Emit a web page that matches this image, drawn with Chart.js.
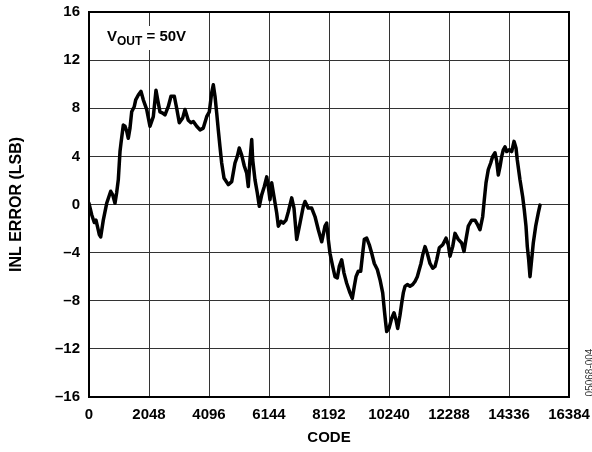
<!DOCTYPE html>
<html>
<head>
<meta charset="utf-8">
<script src="https://cdn.jsdelivr.net/npm/chart.js@4/dist/chart.umd.min.js"></script>
<style>
  html, body { margin: 0; padding: 0; background: #fff; }
  #wrap { width: 592px; height: 452px; position: relative; }
</style>
</head>
<body>
<div id="wrap"><canvas id="c" width="592" height="452"></canvas></div>
<script>
// ---- Data ----
const codes = [
  0, 92, 181, 239, 352, 399, 488, 604, 741, 809, 887, 945, 1000, 1058, 1092, 1171, 1229, 1287, 1341, 1399,
  1457, 1546, 1594, 1683, 1775, 1853, 1969, 2082, 2195, 2287, 2345, 2423, 2516, 2594, 2707, 2799, 2912, 2993,
  3082, 3198, 3277, 3389, 3482, 3560, 3676, 3789, 3901, 4017, 4106, 4188, 4243, 4301, 4359, 4413, 4471, 4529,
  4608, 4755, 4871, 4983, 5062, 5130, 5212, 5301, 5383, 5437, 5495, 5554, 5588, 5666, 5745, 5813, 5895, 5984,
  6066, 6120, 6178, 6236, 6315, 6407, 6462, 6554, 6632, 6724, 6803, 6919, 6997, 7089, 7202, 7315, 7373, 7485,
  7601, 7714, 7827, 7943, 8055, 8113, 8168, 8226, 8318, 8397, 8475, 8543, 8625, 8704, 8796, 8909, 8987, 9056,
  9114, 9192, 9274, 9342, 9397, 9479, 9568, 9650, 9738, 9841, 9933, 10025, 10080, 10127, 10161, 10240, 10332,
  10411, 10479, 10537, 10615, 10673, 10728, 10786, 10865, 10957, 11049, 11127, 11206, 11274, 11332, 11390,
  11469, 11547, 11639, 11731, 11810, 11868, 11957, 12073, 12186, 12264, 12322, 12414, 12493, 12605, 12721,
  12800, 12868, 12947, 13063, 13176, 13268, 13346, 13438, 13493, 13551, 13629, 13711, 13779, 13858, 13916,
  13971, 14029, 14087, 14142, 14199, 14257, 14346, 14428, 14507, 14575, 14619, 14711, 14803, 14858, 14916,
  14961, 15008, 15053, 15097, 15165, 15247, 15336, 15394
];
const inlError = [
  0.1, -0.85, -1.5, -1.3, -2.5, -2.7, -1.3, 0.1, 1.1, 0.8, 0.1, 1.0, 2.05, 4.4, 5.1, 6.6, 6.5, 6.1, 5.5, 6.35,
  7.7, 8.15, 8.7, 9.1, 9.4, 8.7, 7.9, 6.5, 7.3, 9.5, 8.7, 7.7, 7.6, 7.45, 8.15, 9.0, 9.0, 8.0,
  6.8, 7.2, 7.9, 7.0, 6.8, 6.9, 6.5, 6.2, 6.35, 7.3, 7.7, 9.3, 9.95, 9.0, 7.6, 6.2, 4.8, 3.45,
  2.2, 1.65, 1.9, 3.45, 4.0, 4.7, 4.1, 3.2, 2.6, 1.5, 3.7, 5.4, 3.7, 2.05, 0.95, -0.15, 0.8, 1.5,
  2.3, 1.5, 0.4, 1.8, 0.65, -0.7, -1.8, -1.4, -1.55, -1.3, -0.6, 0.55, -0.3, -2.9, -1.55, -0.15, 0.25, -0.3,
  -0.3, -1.0, -2.1, -3.1, -1.8, -1.55, -2.9, -4.05, -5.15, -6.0, -6.1, -5.15, -4.6, -5.7, -6.55, -7.35, -7.8, -6.8,
  -6.0, -5.55, -5.55, -4.05, -2.9, -2.8, -3.35, -4.05, -4.9, -5.4, -6.25, -7.35, -8.75, -9.85, -10.55, -10.3, -9.45,
  -9.0, -9.6, -10.3, -9.2, -8.2, -7.35, -6.8, -6.65, -6.8, -6.65, -6.4, -6.0, -5.4, -4.9, -4.2,
  -3.5, -4.05, -4.9, -5.3, -5.15, -4.6, -3.6, -3.35, -2.8, -3.35, -4.3, -3.5, -2.4, -2.9, -3.2,
  -3.9, -2.9, -1.8, -1.3, -1.3, -1.7, -2.1, -1.0, 0.4, 1.8, 2.9, 3.45, 4.0, 4.3, 3.6,
  2.45, 3.15, 4.0, 4.55, 4.8, 4.4, 4.55, 4.4, 5.25, 4.7, 3.7, 2.05, 0.65, -0.45, -1.8,
  -3.5, -4.6, -6.0, -4.9, -3.2, -1.8, -0.7, -0.05
];
const xTickValues = [0, 2048, 4096, 6144, 8192, 10240, 12288, 14336, 16384];
const xTickLabels = ['0', '2048', '4096', '6144', '8192', '10240', '12288', '14336', '16384'];
const yTickValues = [-16, -12, -8, -4, 0, 4, 8, 12, 16];
const yTickLabels = ['\u201316', '\u201312', '\u20138', '\u20134', '0', '4', '8', '12', '16'];
const xTitle = 'CODE';
const yTitle = 'INL ERROR (LSB)';
const noteMain = 'V';
const noteSub = 'OUT';
const noteRest = ' = 50V';
const figId = '05068-004';

const points = codes.map((c, i) => ({ x: c, y: inlError[i] }));
const FONT = "Arial, 'Liberation Sans', Helvetica, sans-serif";

const decorPlugin = {
  id: 'decor',
  beforeDatasetsDraw(chart) {
    const ctx = chart.ctx;
    const a = chart.chartArea;
    ctx.save();
    ctx.fillStyle = '#fff';
    ctx.fillRect(a.left + 13, a.top + 14, 96, 24);
    ctx.fillStyle = '#000';
    ctx.textBaseline = 'alphabetic';
    ctx.textAlign = 'left';
    let x = a.left + 18;
    const base = a.top + 29;
    ctx.font = 'bold 15px ' + FONT;
    ctx.fillText(noteMain, x, base);
    x += ctx.measureText(noteMain).width;
    ctx.font = 'bold 12px ' + FONT;
    ctx.fillText(noteSub, x, base + 4);
    x += ctx.measureText(noteSub).width;
    ctx.font = 'bold 15px ' + FONT;
    ctx.fillText(noteRest, x, base);
    ctx.restore();
  },
  afterDraw(chart) {
    const ctx = chart.ctx;
    const a = chart.chartArea;
    ctx.save();
    ctx.strokeStyle = '#000';
    ctx.lineWidth = 2;
    ctx.strokeRect(a.left, a.top, a.right - a.left, a.bottom - a.top);
    ctx.translate(590, (a.bottom + 348) / 2);
    ctx.rotate(-Math.PI / 2);
    ctx.font = '10px ' + FONT;
    ctx.fillStyle = '#333';
    ctx.textAlign = 'center';
    ctx.textBaseline = 'middle';
    ctx.fillText(figId, 0, 0);
    ctx.restore();
  }
};

new Chart(document.getElementById('c'), {
  type: 'line',
  data: {
    datasets: [{
      data: points,
      borderColor: '#000',
      borderWidth: 3.5,
      pointRadius: 0,
      tension: 0,
      fill: false,
      borderJoinStyle: 'round',
      borderCapStyle: 'round'
    }]
  },
  options: {
    responsive: false,
    animation: false,
    devicePixelRatio: 1,
    layout: { padding: { left: 0, right: 23, top: 12, bottom: 0 } },
    plugins: { legend: { display: false }, tooltip: { enabled: false } },
    scales: {
      x: {
        type: 'linear',
        min: 0, max: 16384,
        afterBuildTicks(s) { s.ticks = xTickValues.map(v => ({ value: v })); },
        afterFit(s) { s.height = 55; s.paddingLeft = 0; s.paddingRight = 0; },
        grid: { color: '#333', lineWidth: 1, drawTicks: false },
        border: { display: false },
        ticks: {
          color: '#000', padding: 9, maxRotation: 0, autoSkip: false,
          font: { family: FONT, size: 15, weight: 'bold' },
          callback(v) { const i = xTickValues.indexOf(v); return i >= 0 ? xTickLabels[i] : ''; }
        },
        title: {
          display: true, text: xTitle, color: '#000',
          font: { family: FONT, size: 15, weight: 'bold' },
          padding: { top: 0, bottom: 5 }
        }
      },
      y: {
        type: 'linear',
        min: -16, max: 16,
        afterBuildTicks(s) { s.ticks = yTickValues.map(v => ({ value: v })); },
        afterFit(s) { s.width = 89; s.paddingTop = 0; s.paddingBottom = 0; },
        grid: { color: '#333', lineWidth: 1, drawTicks: false },
        border: { display: false },
        ticks: {
          color: '#000', padding: 9, autoSkip: false,
          font: { family: FONT, size: 15, weight: 'bold' },
          callback(v) { const i = yTickValues.indexOf(v); return i >= 0 ? yTickLabels[i] : ''; }
        },
        title: {
          display: true, text: yTitle, color: '#000',
          font: { family: FONT, size: 16, weight: 'bold' },
          padding: { top: 7, bottom: 0 }
        }
      }
    }
  },
  plugins: [decorPlugin]
});
</script>
</body>
</html>
